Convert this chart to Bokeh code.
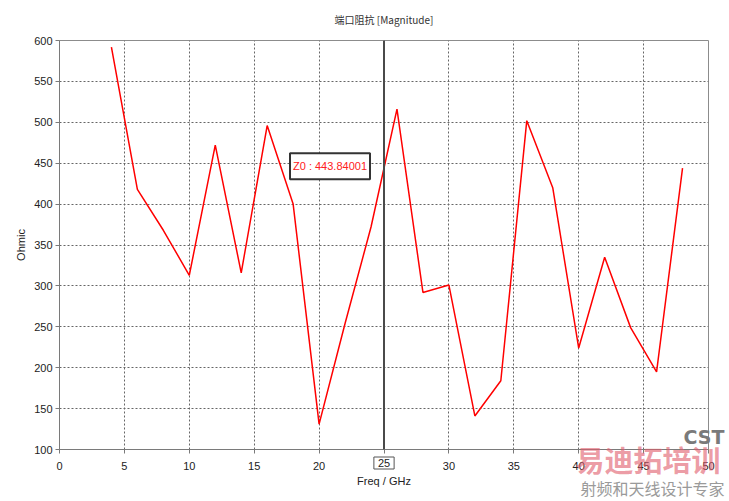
from bokeh.plotting import figure
from bokeh.models import Span, Label, FixedTicker, Range1d, Title
from bokeh.embed import file_html
from bokeh.resources import INLINE

# ---- data ----
freq_ghz = [4, 6, 8, 10, 12, 14, 16, 18, 20, 22, 24, 26, 28, 30, 32, 34, 36, 38, 40, 42, 44, 46, 48]
z0_ohm = [592, 418, 368, 313, 472, 316, 496, 400, 131, 254, 372, 516, 292, 301, 141, 184, 502, 420, 224, 335, 249, 195, 444]
x_ticks = [0, 5, 10, 15, 20, 25, 30, 35, 40, 45, 50]
y_ticks = [100, 150, 200, 250, 300, 350, 400, 450, 500, 550, 600]
marker_freq = 25
marker_value = 443.84001
title_text = "端口阻抗 [Magnitude]"
x_label = "Freq / GHz"
y_label = "Ohmic"

FONT = "Liberation Sans"
CJK = "Noto Sans CJK SC"

p = figure(width=725, height=497, output_backend="svg", toolbar_location=None,
           x_range=Range1d(0, 50), y_range=Range1d(100, 600),
           min_border_left=59, min_border_right=17, min_border_top=38, min_border_bottom=48)

p.title.text = title_text
p.title.align = "center"
p.title.vertical_align = "top"
p.title.text_font = CJK
p.title.text_font_size = "10px"
p.title.text_font_style = "normal"
p.title.text_color = "#333333"
p.title.standoff = 23

p.outline_line_color = "#8c8c8c"
p.outline_line_width = 1

for ax in (p.xaxis[0], p.yaxis[0]):
    ax.axis_line_color = "#7a7a7a"
    ax.major_tick_line_color = "#7a7a7a"
    ax.minor_tick_line_color = None
    ax.major_tick_out = 4
    ax.major_tick_in = 0
    ax.major_label_text_font = FONT
    ax.major_label_text_font_size = "11px"
    ax.major_label_text_color = "#222222"
    ax.axis_label_text_font = FONT
    ax.axis_label_text_font_size = "11px"
    ax.axis_label_text_font_style = "normal"
    ax.axis_label_text_color = "#222222"

p.xaxis.ticker = FixedTicker(ticks=x_ticks)
p.yaxis.ticker = FixedTicker(ticks=y_ticks)
p.xaxis.axis_label = x_label
p.yaxis.axis_label = y_label
p.xaxis.major_label_standoff = 6
p.xaxis.axis_label_standoff = 0
p.yaxis.major_label_standoff = 3
p.yaxis.axis_label_standoff = 4
p.xaxis.major_label_overrides = {marker_freq: " "}

for g in (p.xgrid[0], p.ygrid[0]):
    g.grid_line_color = "#666666"
    g.grid_line_dash = "2 2"
    g.grid_line_width = 1

p.line(freq_ghz, z0_ohm, line_color="#ff0000", line_width=1.5)

p.add_layout(Span(location=marker_freq, dimension="height", line_color="#4a4a4a", line_width=2))

# marker readout box
p.add_layout(Label(x=marker_freq, y=marker_value, x_offset=-14, y_offset=2,
                   text="Z0 : %.5f" % marker_value, text_align="right", text_baseline="middle",
                   text_font=FONT, text_font_size="11px", text_color="#ff2020",
                   background_fill_color="white", border_line_color="#333333",
                   border_line_width=2, padding=dict(left=3, right=3, top=7, bottom=7)))

# texts below / beside the frame, as side-panel titles
p.add_layout(Title(text="射频和天线设计专家", align="right", offset=-16, standoff=-28,
                   vertical_align="top",
                   text_font=CJK, text_font_size="16px", text_font_style="normal",
                   text_color="#9a9a9a"), "below")
p.add_layout(Title(text=str(marker_freq), align="center", offset=0, standoff=-65,
                   vertical_align="top",
                   text_font=FONT, text_font_size="11px", text_font_style="normal",
                   text_color="#222222", background_fill_color="white",
                   border_line_color="#555555", border_line_width=1,
                   padding=dict(left=4, right=4, top=2, bottom=2)), "below")
p.add_layout(Title(text="易迪拓培训", align="right", offset=-12, standoff=-104,
                   vertical_align="top",
                   text_font=CJK, text_font_size="29px", text_font_style="bold",
                   text_color="#e05a6a", text_alpha=0.6), "below")
p.add_layout(Title(text="CST", align="right", offset=-16, standoff=-127,
                   vertical_align="top",
                   text_font="DejaVu Sans", text_font_size="19px", text_font_style="bold",
                   text_color="#7a7a7a"), "below")

open("out.html", "w").write(file_html(p, INLINE))
